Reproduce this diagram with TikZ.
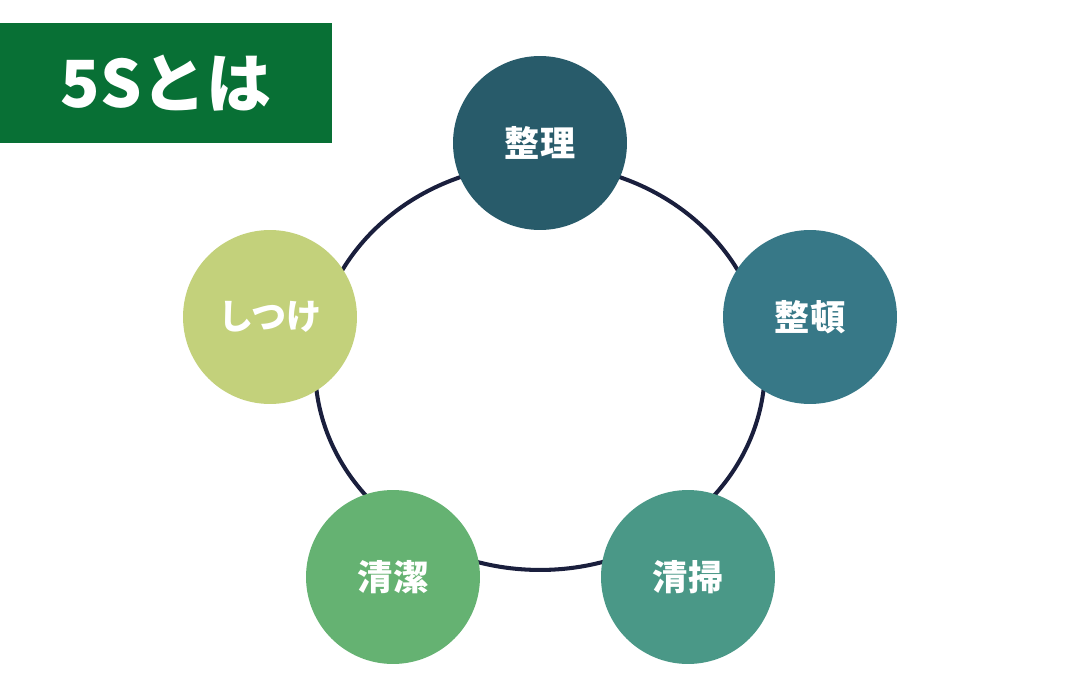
\documentclass[tikz,border=0pt]{standalone}
\usepackage{fontspec}
\usepackage{xcolor}
\usepackage{tikz}
\usetikzlibrary{positioning}
\newfontfamily\cjk{Noto Sans CJK JP}
\definecolor{titlegreen}{RGB}{8,112,53}
\definecolor{ringnavy}{RGB}{26,31,61}
\definecolor{seiriblue}{RGB}{40,91,106}
\definecolor{seitonblue}{RGB}{55,120,135}
\definecolor{seisougreen}{RGB}{74,152,135}
\definecolor{seiketsugreen}{RGB}{101,178,114}
\definecolor{shitsukelime}{RGB}{195,209,123}

\begin{document}
\begin{tikzpicture}[x=0.02cm,y=-0.02cm,
    sbox/.style={circle,minimum size=3.48cm,inner sep=0pt,text=white,
      font=\cjk\bfseries\fontsize{20}{24}\selectfont}]
  \useasboundingbox (0,0) rectangle (1080,700);
  % title
  \node[fill=titlegreen,minimum width=6.64cm,minimum height=2.4cm,inner sep=0pt,
    text=white,font=\cjk\bfseries\fontsize{37}{40}\selectfont] (title) at (166,83) {5Sとは};
  % ring
  \draw[ringnavy,line width=2.3pt] (540,367) ellipse [x radius=4.5cm,y radius=4.06cm];
  % the five S
  \node[sbox,fill=seiriblue] (seiri) at (540,143) {整理};
  \node[sbox,fill=seitonblue] (seiton) at (810,317) {整頓};
  \node[sbox,fill=seisougreen] (seisou) at (688,577) {清掃};
  \node[sbox,fill=seiketsugreen] (seiketsu) at (393,577) {清潔};
  \node[sbox,fill=shitsukelime] (shitsuke) at (270,317) {しつけ};
\end{tikzpicture}
\end{document}
